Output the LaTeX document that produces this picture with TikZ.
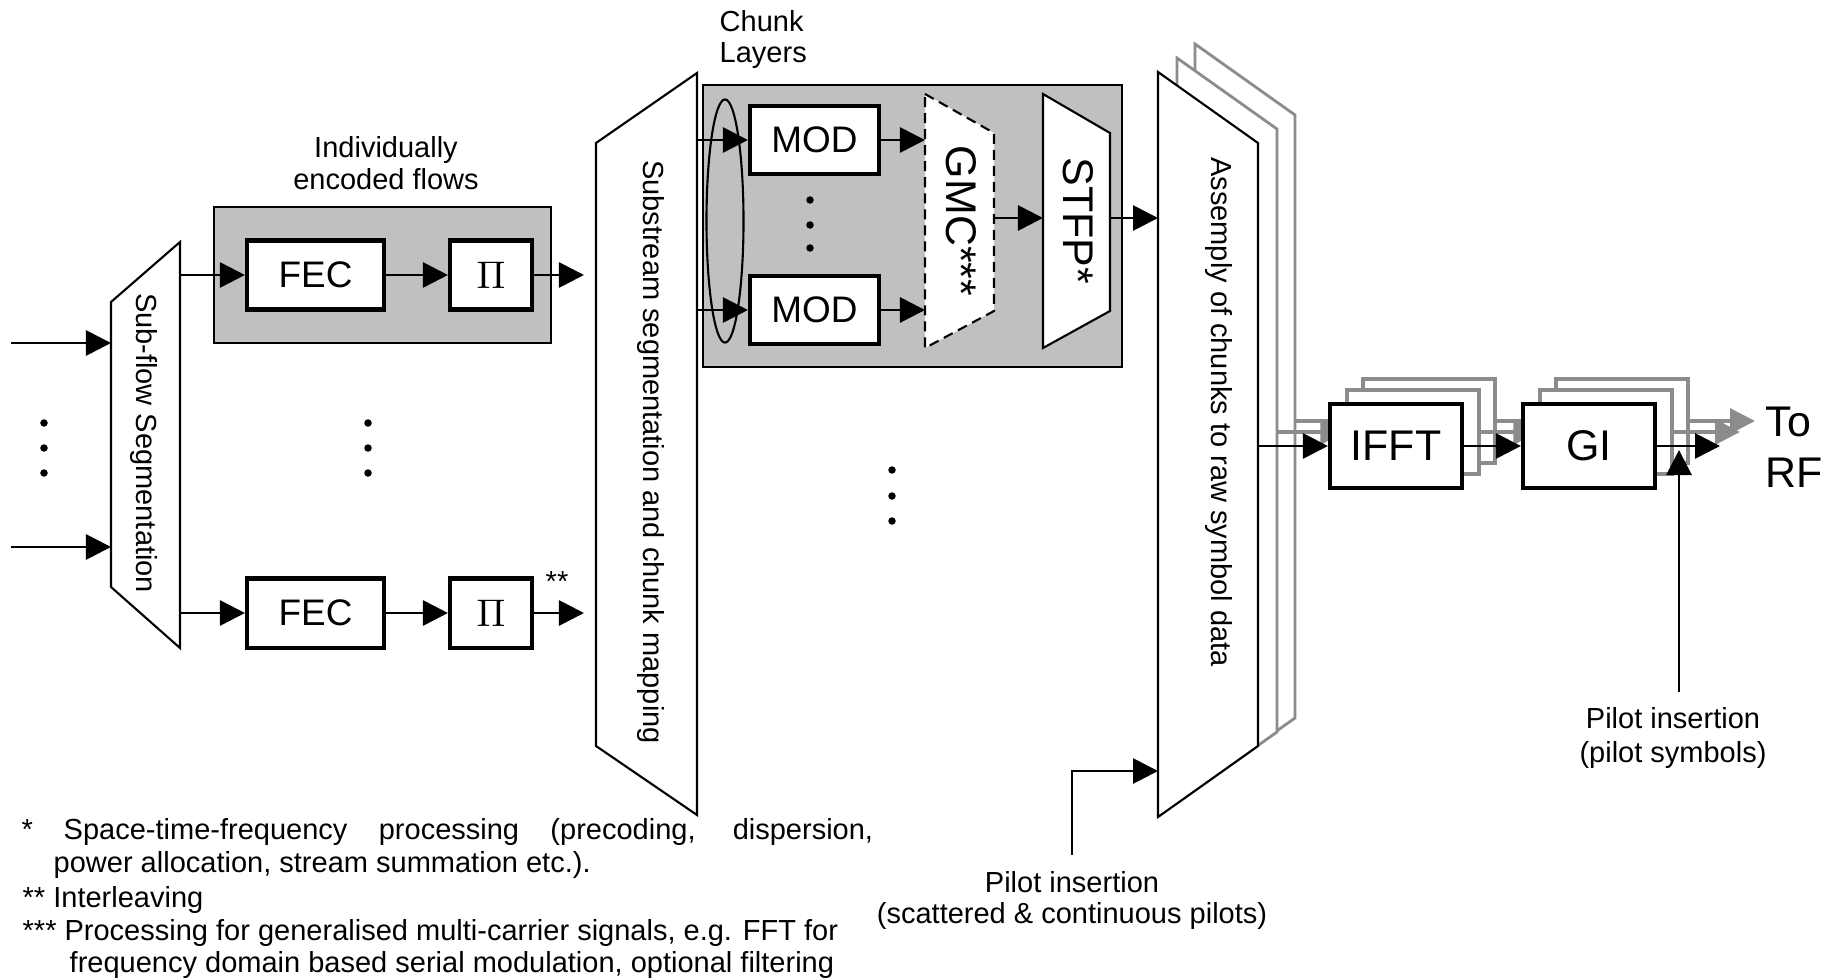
\documentclass[tikz,border=0pt]{standalone}
\usepackage{fontspec}
\setmainfont{Liberation Sans}
\usetikzlibrary{arrows.meta,shapes.geometric}
\definecolor{boxgray}{RGB}{192,192,192}
\definecolor{laygray}{RGB}{140,140,140}
\begin{document}
\begin{tikzpicture}[x=0.01cm,y=-0.01cm,
  >={Triangle[length=0.25cm,width=0.25cm]},
  conn/.style={->,line width=0.8pt},
  gconn/.style={->,line width=0.9pt,draw=laygray,fill=laygray},
  blk/.style={draw,fill=white,line width=1.15pt,inner sep=0,font=\fontsize{10.5}{12}\selectfont},
  bigblk/.style={blk,minimum width=1.32cm,minimum height=0.84cm,font=\fontsize{12.2}{14}\selectfont},
  layblk/.style={draw=laygray,fill=white,line width=0.9pt,inner sep=0,minimum width=1.32cm,minimum height=0.84cm},
  trap/.style={draw,fill=white,line width=0.6pt},
  lay/.style={draw=laygray,fill=white,line width=0.8pt},
  lbl/.style={inner sep=0,font=\fontsize{8.25}{9.5}\selectfont},
  bigtxt/.style={inner sep=0,font=\fontsize{12.2}{14}\selectfont},
  grbox/.style={draw,fill=boxgray,line width=0.5pt,inner sep=0},
  bdot/.style={circle,fill,inner sep=0,minimum size=0.075cm},
]
\useasboundingbox (0,0) rectangle (1824,979);

% grey group boxes
\node[grbox,minimum width=3.37cm,minimum height=1.36cm] (enc) at (382.5,275) {};
\node[grbox,minimum width=4.19cm,minimum height=2.82cm] (chunk) at (912.5,226) {};

% sub-flow segmentation
\draw[trap] (111,302) -- (180,242) -- (180,648) -- (111,587) -- cycle;
\node[lbl,rotate=-90] (sftxt) at (144,443) {Sub-flow Segmentation};

% substream segmentation
\draw[trap] (596,143) -- (697,73) -- (697,815) -- (596,746) -- cycle;
\node[lbl,rotate=-90] (sstxt) at (651,452) {Substream segmentation and chunk mapping};

% chunk layer ellipse
\node[ellipse,draw,line width=0.6pt,minimum width=0.37cm,minimum height=2.43cm,inner sep=0] (grp) at (725,221) {};

% GMC and STFP
\draw[trap,dash pattern=on 0.1cm off 0.06cm] (925,94) -- (994,133) -- (994,311) -- (925,348) -- cycle;
\node[bigtxt,rotate=-90] (gmctxt) at (961,221) {GMC***};
\draw[trap] (1043,94) -- (1110,133) -- (1110,311) -- (1043,348) -- cycle;
\node[bigtxt,rotate=-90] (stfptxt) at (1078,221) {STFP*};

% assembly with layers
\draw[lay,shift={(37,-28)}] (1158,72) -- (1258,143) -- (1258,746) -- (1158,817) -- cycle;
\draw[lay,shift={(19,-14)}] (1158,72) -- (1258,143) -- (1258,746) -- (1158,817) -- cycle;
\draw[trap] (1158,72) -- (1258,143) -- (1258,746) -- (1158,817) -- cycle;
\node[lbl,rotate=-90] (asmtxt) at (1219,412) {Assemply of chunks to raw symbol data};

% boxes
\node[blk,minimum width=1.37cm,minimum height=0.69cm] (fec1) at (315.5,275) {FEC};
\node[blk,minimum width=0.82cm,minimum height=0.69cm] (pi1) at (491,275) {$\Pi$};
\node[blk,minimum width=1.37cm,minimum height=0.69cm] (fec2) at (315.5,613) {FEC};
\node[blk,minimum width=0.82cm,minimum height=0.69cm] (pi2) at (491,613) {$\Pi$};
\node[blk,minimum width=1.29cm,minimum height=0.68cm] (mod1) at (814.5,140) {MOD};
\node[blk,minimum width=1.29cm,minimum height=0.68cm] (mod2) at (814.5,310) {MOD};

% port coordinates
\coordinate (in1) at (11,343);  \coordinate (sfin1) at (111,343);
\coordinate (in2) at (11,547);  \coordinate (sfin2) at (111,547);
\coordinate (sfout1) at (180,275); \coordinate (sfout2) at (180,613);
\coordinate (ssin1) at (584,275);  \coordinate (ssin2) at (584,613);
\coordinate (ssout1) at (697,140); \coordinate (ssout2) at (697,310);
\coordinate (gmcin1) at (925,140); \coordinate (gmcin2) at (925,310);
\coordinate (gmcout) at (994,218); \coordinate (stfpin) at (1043,218);
\coordinate (stfpout) at (1110,218); \coordinate (asmin) at (1158,218);
\coordinate (asmout) at (1258,446);
\coordinate (asmout2) at (1277,432); \coordinate (asmout3) at (1295,421);
\coordinate (pilA) at (1072,855); \coordinate (asmpil) at (1158,771);
\coordinate (pilB) at (1679,692); \coordinate (pilBt) at (1679,450);
\coordinate (rf1) at (1720,446); \coordinate (rf2) at (1740,432); \coordinate (rf3) at (1755,421);

% IFFT stack
\node[layblk] (ifft3) at (1429,421) {};
\node[layblk] (ifft2) at (1413,432) {};
\draw[gconn] (asmout3) -- (ifft3.west);
\draw[gconn] (asmout2) -- (ifft2.west);
\node[bigblk] (ifft) at (1396,446) {IFFT};

% GI stack
\node[layblk] (gi3) at (1622,421) {};
\node[layblk] (gi2) at (1606,432) {};
\draw[gconn] (ifft3.east) -- (gi3.west);
\draw[gconn] (ifft2.east) -- (gi2.west);
\node[bigblk] (gi) at (1589,446) {GI};
\draw[gconn] (gi3.east) -- (rf3);
\draw[gconn] (gi2.east) -- (rf2);

% black connectors
\draw[conn] (in1) -- (sfin1);
\draw[conn] (in2) -- (sfin2);
\draw[conn] (sfout1) -- (fec1.west);
\draw[conn] (sfout2) -- (fec2.west);
\draw[conn] (fec1) -- (pi1);
\draw[conn] (fec2) -- (pi2);
\draw[conn] (pi1.east) -- (ssin1);
\draw[conn] (pi2.east) -- (ssin2);
\draw[conn] (ssout1) -- (mod1.west);
\draw[conn] (ssout2) -- (mod2.west);
\draw[conn] (mod1.east) -- (gmcin1);
\draw[conn] (mod2.east) -- (gmcin2);
\draw[conn] (gmcout) -- (stfpin);
\draw[conn] (stfpout) -- (asmin);
\draw[conn] (asmout) -- (ifft.west);
\draw[conn] (ifft.east) -- (gi.west);
\draw[conn] (gi.east) -- (rf1);
\draw[conn] (pilA) |- (asmpil);
\draw[conn] (pilB) -- (pilBt);

% dots
\foreach \n/\x/\y in {a1/44/423,a2/44/448,a3/44/473,
                      b1/368/423,b2/368/448,b3/368/473,
                      c1/810/200,c2/810/225,c3/810/248,
                      e1/892/470,e2/892/496,e3/892/521}
  \node[bdot] (dot\n) at (\x,\y) {};

% labels
\node[lbl,anchor=base] (ind1) at (386,158) {Individually};
\node[lbl,anchor=base] (ind2) at (386,190) {encoded flows};
\node[lbl,anchor=base west] (ch1) at (719,32) {Chunk};
\node[lbl,anchor=base west] (ch2) at (719,63) {Layers};
\node[lbl,anchor=base] (ast2) at (557,591) {**};
\node[bigtxt,anchor=base west] (to) at (1765,436) {To};
\node[bigtxt,anchor=base west] (rf) at (1765,487) {RF};
\node[lbl,anchor=base] (pa1) at (1072,892) {Pilot insertion};
\node[lbl,anchor=base] (pa2) at (1072,923) {(scattered \& continuous pilots)};
\node[lbl,anchor=base] (pb1) at (1673,728) {Pilot insertion};
\node[lbl,anchor=base] (pb2) at (1673,762) {(pilot symbols)};

% footnotes
\node[lbl,anchor=base west] (fn1a) at (21,839) {*};
\node[lbl,anchor=base west] (fn1b) at (63,839) {\makebox[8.09cm][s]{Space-time-frequency processing (precoding, dispersion,}};
\node[lbl,anchor=base west] (fn2) at (53,872) {power allocation, stream summation etc.).};
\node[lbl,anchor=base west] (fn3) at (22,907) {** Interleaving};
\node[lbl,anchor=base west] (fn4) at (22,940) {*** Processing for generalised multi-carrier signals, e.g. FFT for};
\node[lbl,anchor=base west] (fn5) at (69,972) {frequency domain based serial modulation, optional filtering};
\end{tikzpicture}
\end{document}
